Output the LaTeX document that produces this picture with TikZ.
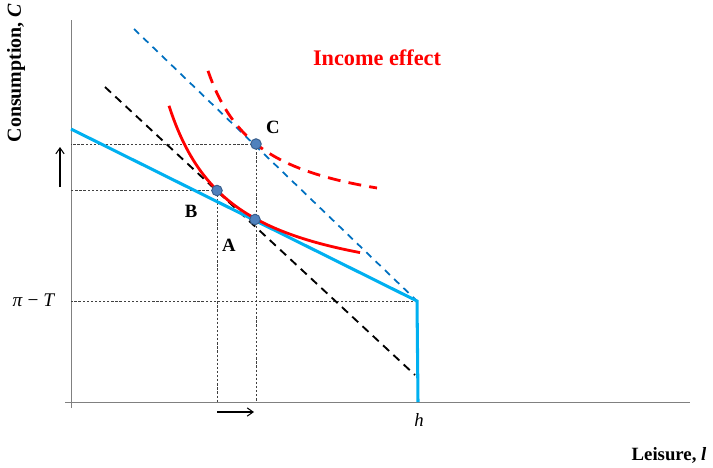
\documentclass[tikz,border=0pt]{standalone}
\usepackage{fontspec}
\setmainfont{Liberation Serif}
\usetikzlibrary{arrows.meta,positioning,calc}
\definecolor{Sky}{HTML}{00B0F0}
\definecolor{Navy}{HTML}{0070C0}
\definecolor{Dot}{HTML}{4F81BD}
\definecolor{DotEdge}{HTML}{385D8A}
\definecolor{Axis}{HTML}{808080}
\tikzset{
  axis/.style={draw=Axis,line width=.8pt},
  budget/.style={draw=Sky,line width=2.6pt},
  comp/.style={draw=black,line width=1.6pt,dash pattern=on 7pt off 5pt},
  newbudget/.style={draw=Navy,line width=1.5pt,dash pattern=on 6pt off 5pt},
  indiff/.style={draw=red,line width=2.4pt},
  newindiff/.style={draw=red,line width=2.4pt,dash pattern=on 11pt off 7pt},
  guide/.style={draw=black!75,line width=.5pt,dash pattern=on 2pt off 1.5pt},
  pt/.style={circle,fill=Dot,draw=DotEdge,line width=.8pt,minimum size=9pt,inner sep=0pt},
  ptlabel/.style={font=\fontsize{16}{18}\selectfont\bfseries},
  axlabel/.style={font=\fontsize{16}{18}\selectfont\bfseries},
  movearrow/.style={-{Straight Barb[length=5pt,width=7pt]},line width=.9pt}
}
\begin{document}
\begin{tikzpicture}[x=0.03cm,y=-0.03cm]
  \useasboundingbox (0,0) rectangle (713,467);
  % axes
  \coordinate (O) at (71,402);
  \coordinate (ytop) at (71,20);
  \coordinate (ybot) at (71,408);
  \coordinate (xleft) at (65,402);
  \coordinate (xright) at (690,402);
  \draw[axis] (ybot) -- (ytop);
  \draw[axis] (xleft) -- (xright);
  % key points
  \coordinate (pB) at (217,190.5);
  \coordinate (pA) at (255,219.5);
  \coordinate (pC) at (256,144);
  \coordinate (kink) at (417,301);
  \coordinate (hbase) at (418,402);
  % guides
  \draw[guide] (pC) -- (pC -| O);
  \draw[guide] (pB) -- (pB -| O);
  \draw[guide] (kink) -- (kink -| O);
  \draw[guide] (pB) -- (pB |- O);
  \draw[guide] (pC) -- (pC |- O);
  % budget lines
  \coordinate (b0) at (71,129);
  \coordinate (k0) at (105,87);
  \coordinate (k1) at (415,375);
  \coordinate (n0) at (134,29);
  \draw[comp] (k0) -- (k1);
  \draw[newbudget] (n0) -- (kink);
  \draw[budget] (b0) -- (kink) -- (hbase);
  % indifference curves
  \draw[indiff] plot[domain=169:360,samples=80] (\x,{301-12300/(\x-106)});
  \draw[newindiff] plot[domain=208:377,samples=80] (\x,{224.7-8154/(\x-155)});
  % points
  \node[pt] (B) at (pB) {};
  \node[pt] (A) at (pA) {};
  \node[pt] (C) at (pC) {};
  \node[ptlabel] (labC) at (273,127) {C};
  \node[ptlabel] (labB) at (191,211) {B};
  \node[ptlabel] (labA) at (229,245) {A};
  % labels
  \node[font=\fontsize{19}{22}\selectfont\bfseries,text=red] (title) at (377,58) {Income effect};
  \node[font=\fontsize{16.5}{18}\selectfont] (piT) at (34,300) {\textit{π} − \textit{T}};
  \node[font=\fontsize{16}{18}\selectfont] (h) at (419,420) {\textit{h}};
  \node[axlabel,font=\fontsize{17}{19}\selectfont\bfseries,rotate=90] (ylab) at (16,73) {Consumption, \textit{C}};
  \node[axlabel] (xlab) at (669,455) {Leisure, \textit{l}};
  % shift arrows
  \coordinate (u0) at (60,187);
  \coordinate (u1) at (60,147);
  \coordinate (r0) at (217,412);
  \coordinate (r1) at (254,412);
  \draw[movearrow] (u0) -- (u1);
  \draw[movearrow] (r0) -- (r1);
\end{tikzpicture}
\end{document}
